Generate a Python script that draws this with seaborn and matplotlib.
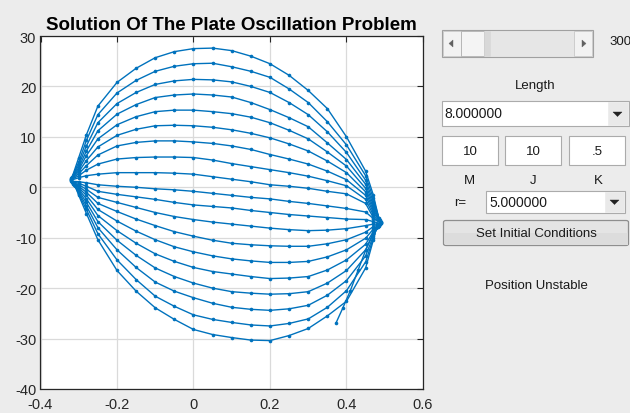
import numpy as np
import pandas as pd
import matplotlib
matplotlib.use("Agg")
import matplotlib.pyplot as plt
import seaborn as sns
from matplotlib.patches import Rectangle, Polygon, FancyBboxPatch

# ---------------- data ----------------
x_stations = [-0.30, -0.28, -0.25, -0.20, -0.15, -0.10, -0.05, 0.0, 0.05, 0.10,
              0.15, 0.20, 0.25, 0.30, 0.35, 0.40, 0.45, 0.47]

curve_names = ["C1", "C2", "C3", "C4", "C5", "C6", "C7", "C8", "C9",
               "L1", "L2", "L3", "L4", "L5", "L6", "L7", "L8", "L9", "L10"]

left_end_x = [-0.316, -0.317, -0.318, -0.318, -0.319, -0.319, -0.320, -0.320, -0.320,
              -0.319, -0.318, -0.317, -0.316, -0.315, -0.314, -0.313, -0.312, -0.311, -0.310]
left_end_y = [2.3, 2.1, 2.0, 1.9, 1.8, 1.7, 1.6, 1.5, 1.4,
              1.2, 1.1, 1.0, 0.9, 0.8, 0.7, 0.6, 0.5, 0.4, 0.3]
right_end_x = [0.484, 0.485, 0.486, 0.487, 0.488, 0.488, 0.489, 0.489, 0.489,
               0.489, 0.488, 0.487, 0.486, 0.485, 0.484, 0.483, 0.482, 0.480, 0.478]
right_end_y = [-6.0, -6.2, -6.4, -6.5, -6.6, -6.7, -6.8, -6.9, -7.0,
               -7.1, -7.2, -7.3, -7.4, -7.5, -7.6, -7.7, -7.8, -7.9, -8.0]

C1 = [5.9, 10.4, 16.1, 20.8, 23.6, 25.7, 26.9, 27.5, 27.6, 27.1, 26.0, 24.5, 22.2, 19.2, 15.6, 10.0, 3.2, -1.5]
C2 = [5.0, 9.3, 14.4, 18.7, 21.2, 23.0, 24.0, 24.5, 24.6, 23.9, 23.0, 21.8, 19.5, 16.8, 13.0, 8.4, 2.3, -2.2]
C3 = [4.4, 8.2, 12.8, 16.6, 18.8, 20.4, 21.1, 21.4, 21.3, 20.9, 20.0, 18.8, 16.8, 14.4, 11.0, 6.9, 1.4, -2.9]
C4 = [3.9, 7.2, 11.2, 14.5, 16.4, 17.8, 18.3, 18.5, 18.3, 17.9, 16.8, 15.4, 13.8, 12.0, 8.8, 5.5, 0.6, -3.5]
C5 = [3.5, 6.3, 9.6, 12.4, 14.0, 15.0, 15.3, 15.3, 15.0, 14.6, 13.9, 12.8, 11.3, 9.6, 7.0, 4.2, -0.2, -4.0]
C6 = [3.1, 5.3, 8.0, 10.3, 11.5, 12.2, 12.3, 12.2, 11.9, 11.4, 10.7, 9.8, 8.6, 7.2, 5.2, 2.9, -0.9, -4.5]
C7 = [2.7, 4.3, 6.4, 8.2, 8.9, 9.2, 9.2, 9.0, 8.7, 8.2, 7.5, 6.5, 5.6, 4.6, 3.2, 1.5, -1.6, -5.0]
C8 = [2.3, 3.4, 4.6, 5.6, 5.9, 6.0, 6.0, 5.9, 5.4, 4.7, 4.1, 3.5, 2.9, 2.2, 1.3, 0.3, -2.4, -5.5]
C9 = [1.9, 2.3, 2.6, 2.9, 2.9, 2.9, 2.8, 2.6, 2.1, 1.6, 1.1, 0.5, 0.2, -0.2, -0.8, -1.3, -3.2, -6.0]
L1 = [1.1, 0.9, 0.5, 0.2, 0.0, -0.3, -0.5, -0.8, -1.2, -1.6, -2.0, -2.3, -2.8, -3.2, -3.7, -4.2, -4.9, -6.2]
L2 = [0.8, 0.2, -0.8, -1.4, -1.9, -2.4, -3.0, -3.5, -3.8, -4.1, -4.6, -5.0, -5.4, -5.7, -6.0, -6.3, -6.4, -6.8]
L3 = [0.5, -0.4, -2.0, -3.0, -4.0, -5.0, -5.8, -6.4, -6.9, -7.3, -7.7, -8.1, -8.4, -8.6, -8.5, -8.2, -7.6, -7.3]
L4 = [0.2, -1.0, -3.2, -4.8, -6.3, -7.6, -8.8, -9.7, -10.5, -11.1, -11.4, -11.6, -11.7, -11.7, -11.2, -10.4, -8.9, -7.8]
L5 = [-0.1, -1.6, -4.4, -6.7, -8.7, -10.4, -11.8, -12.8, -13.6, -14.2, -14.6, -14.9, -14.9, -14.7, -13.8, -12.4, -10.1, -8.3]
L6 = [-0.4, -2.3, -5.6, -8.6, -11.1, -13.2, -14.7, -15.9, -16.7, -17.2, -17.7, -18.1, -18.0, -17.7, -16.4, -14.4, -11.3, -8.8]
L7 = [-0.7, -3.0, -6.8, -10.5, -13.5, -16.0, -17.7, -19.0, -20.0, -20.7, -21.0, -21.2, -21.1, -20.7, -19.0, -16.5, -12.4, -9.3]
L8 = [-1.0, -3.7, -8.0, -12.4, -15.9, -18.8, -20.6, -21.9, -23.0, -23.8, -24.2, -24.4, -24.1, -23.4, -21.4, -18.5, -13.6, -9.7]
L9 = [-1.3, -4.4, -9.2, -14.4, -18.3, -21.6, -23.6, -25.3, -26.2, -26.8, -27.3, -27.5, -27.0, -26.1, -23.8, -20.5, -14.8, -10.1]
L10 = [-1.6, -5.2, -10.4, -16.5, -20.6, -23.9, -26.2, -28.2, -29.2, -29.8, -30.3, -30.4, -29.4, -28.0, -25.5, -22.6, -16.0, -10.5]

tail_x = [0.372, 0.39, 0.41, 0.43, 0.45, 0.468, 0.481]
tail_y = [-27.0, -24.0, -20.5, -16.5, -12.5, -9.3, -7.3]

x_ticks = [-0.4, -0.2, 0, 0.2, 0.4, 0.6]
x_ticklabels = ["-0.4", "-0.2", "0", "0.2", "0.4", "0.6"]
y_ticks = [-40, -30, -20, -10, 0, 10, 20, 30]
y_ticklabels = ["-40", "-30", "-20", "-10", "0", "10", "20", "30"]

title_text = "Solution Of The Plate Oscillation Problem"

# ---------------- build long table ----------------
curves = [C1, C2, C3, C4, C5, C6, C7, C8, C9, L1, L2, L3, L4, L5, L6, L7, L8, L9, L10]
rows = []
for i, (name, ys) in enumerate(zip(curve_names, curves)):
    xs = [left_end_x[i]] + x_stations + [right_end_x[i]]
    yy = [left_end_y[i]] + ys + [right_end_y[i]]
    for k, (a, b) in enumerate(zip(xs, yy)):
        rows.append((name, k, a, b))
for k, (a, b) in enumerate(zip(tail_x, tail_y)):
    rows.append(("tail", k, a, b))
df = pd.DataFrame(rows, columns=["curve", "order", "x", "y"])

# ---------------- figure ----------------
sns.set_style("white")
plt.rcParams["font.family"] = ["Liberation Sans", "DejaVu Sans"]

W, H = 630, 414
BG = "#ECECEC"
fig = plt.figure(figsize=(W / 100, H / 100), dpi=100, facecolor=BG)

ax = fig.add_axes([40.5 / W, 1 - 390 / H, (423 - 40.5) / W, (390 - 37) / H])
ax.set_facecolor("white")

LINE = "#0072BD"
sns.lineplot(data=df, x="x", y="y", units="curve", estimator=None, sort=False,
             color=LINE, lw=1.0, marker="o", markersize=2.6, markeredgewidth=0,
             ax=ax, legend=False)

ax.set_xlim(-0.4, 0.6)
ax.set_ylim(-40, 30)
ax.set_xticks(x_ticks)
ax.set_xticklabels(x_ticklabels)
ax.set_yticks(y_ticks)
ax.set_yticklabels(y_ticklabels)
ax.set_xlabel("")
ax.set_ylabel("")
ax.grid(True, color="#DADADA", lw=0.9)
ax.set_axisbelow(True)
for s in ax.spines.values():
    s.set_color("#262626")
    s.set_linewidth(0.9)
ax.tick_params(direction="in", top=True, right=True, length=4, width=0.8,
               colors="#262626", labelsize=10.5)
ax.tick_params(axis="x", pad=6)
ax.tick_params(axis="y", pad=3)
ax.set_title(title_text, fontsize=13.5, fontweight="bold", color="black", pad=5)

# ---------------- GUI widgets (figure pixel coords, origin top-left) ----------------
def rect(x0, y0, x1, y1, fc, ec, lw=0.8, z=1):
    fig.add_artist(Rectangle((x0 / W, 1 - y1 / H), (x1 - x0) / W, (y1 - y0) / H,
                             transform=fig.transFigure, fc=fc, ec=ec, lw=lw, zorder=z))

def tri(points, color):
    pts = [(px / W, 1 - py / H) for px, py in points]
    fig.add_artist(Polygon(pts, closed=True, transform=fig.transFigure,
                           fc=color, ec=color, lw=0.3, zorder=5))

def label(x, y, s, size=9.5, ha="center", color="#1A1A1A"):
    fig.text(x / W, 1 - y / H, s, ha=ha, va="center", fontsize=size, color=color,
             family=["Liberation Sans", "DejaVu Sans"])

# slider
rect(442, 31, 593, 58, "#E6E6E6", "#A0A0A0", 0.8)
rect(443, 32, 461, 57, "#F2F2F2", "#C8C8C8", 0.6)
rect(461, 32, 484, 57, "#F4F4F4", "#B0B0B0", 0.6)
rect(484, 32, 490, 57, "#D8D8D8", "#D8D8D8", 0.4)
rect(574, 32, 592, 57, "#F2F2F2", "#C8C8C8", 0.6)
tri([(449, 44.5), (453, 41), (453, 48)], "#606060")
tri([(586, 44.5), (582, 41), (582, 48)], "#606060")
label(609, 42, "300", ha="left")

# length popup
label(535, 86, "Length")
rect(442, 102, 629, 127, "white", "#ABABAB", 0.8)
rect(608, 103, 628, 126, "#E9E9E9", "#E9E9E9", 0.4)
tri([(613, 113), (622, 113), (617.5, 117.5)], "#222222")
label(444, 114.5, "8.000000", size=10, ha="left")

# edit boxes
for (x0, x1, t) in [(442, 498, "10"), (505, 561, "10"), (569, 625, ".5")]:
    rect(x0, 137, x1, 166, "white", "#ABABAB", 0.8)
    label((x0 + x1) / 2, 152, t)

label(469, 181, "M")
label(533, 181, "J")
label(598, 181, "K")
label(460, 203.5, "r=")
rect(486, 192, 625, 214, "white", "#ABABAB", 0.8)
rect(605, 193, 624, 213, "#E9E9E9", "#E9E9E9", 0.4)
tri([(610, 201), (619, 201), (614.5, 205.5)], "#222222")
label(489, 203.5, "5.000000", size=10, ha="left")

# button
fig.add_artist(FancyBboxPatch((443.5 / W, 1 - 246.5 / H), (628.5 - 443.5) / W, (246.5 - 221.5) / H,
                              boxstyle="round,pad=0,rounding_size=0.004",
                              transform=fig.transFigure, fc="#E4E4E4", ec="#8E8E8E", lw=0.9, zorder=1))
rect(444.5, 234, 627.5, 245.5, "#DCDCDC", "none", 0, z=1.5)
label(536, 234, "Set Initial Conditions")

label(536.5, 286.5, "Position Unstable")

fig.savefig("out.png", dpi=100, facecolor=BG)
